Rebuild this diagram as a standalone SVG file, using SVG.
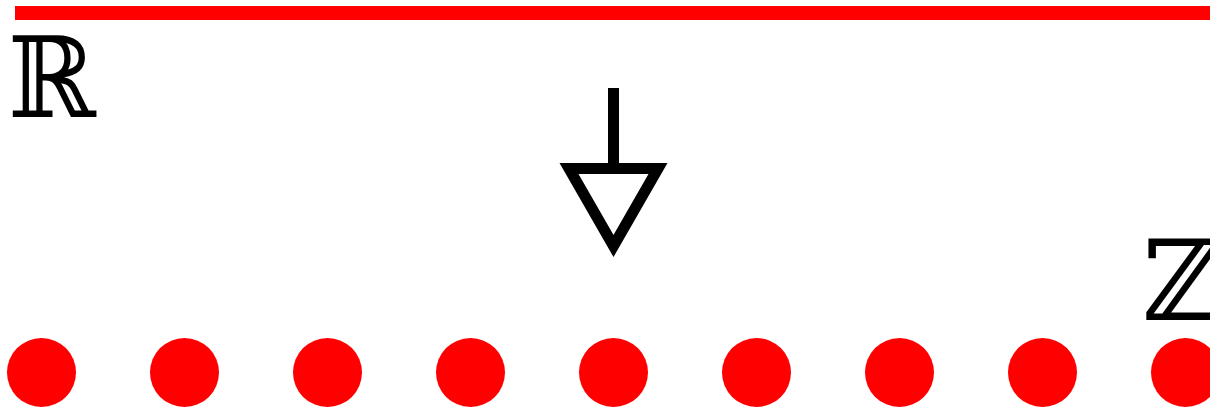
<svg xmlns="http://www.w3.org/2000/svg" width="1210" height="409" viewBox="0 0 1210 409">
<style>
.lbl{font-family:"DejaVu Serif","DejaVu Sans",serif;font-size:112px;fill:#000}
.dot{fill:#ff0000}
</style>
<rect width="1210" height="409" fill="#fff"/>
<g id="reals">
<line x1="15" y1="13" x2="1210" y2="13" stroke="#ff0000" stroke-width="14"/>
<text class="lbl" x="8" y="117" textLength="88" lengthAdjust="spacingAndGlyphs">ℝ</text>
</g>
<g id="arrow">
<line x1="613.5" y1="88" x2="613.5" y2="169" stroke="#000" stroke-width="11"/>
<polygon points="569,168.5 658,168.5 613.5,246" fill="none" stroke="#000" stroke-width="11"/>
</g>
<g id="integers">
<text class="lbl" x="1142" y="320">ℤ</text>
<circle class="dot" cx="41.5" cy="372.5" r="34.5"/>
<circle class="dot" cx="184.5" cy="372.5" r="34.5"/>
<circle class="dot" cx="327.5" cy="372.5" r="34.5"/>
<circle class="dot" cx="470.5" cy="372.5" r="34.5"/>
<circle class="dot" cx="613.5" cy="372.5" r="34.5"/>
<circle class="dot" cx="756.5" cy="372.5" r="34.5"/>
<circle class="dot" cx="899.5" cy="372.5" r="34.5"/>
<circle class="dot" cx="1042.5" cy="372.5" r="34.5"/>
<circle class="dot" cx="1185.5" cy="372.5" r="34.5"/>
</g>
</svg>
